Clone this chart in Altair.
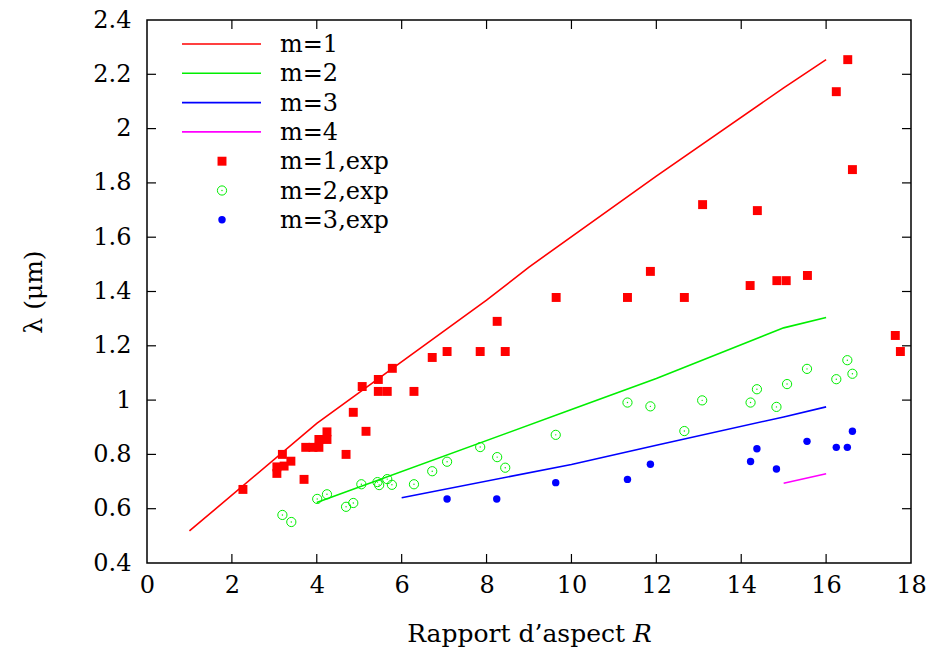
import altair as alt
import pandas as pd

# ---- theoretical curves ----
m1_x = [1, 4, 8, 9, 12, 15, 16]
m1_y = [0.518, 0.914, 1.368, 1.49, 1.825, 2.15, 2.254]
m2_x = [4, 10, 12, 15, 16]
m2_y = [0.623, 0.965, 1.08, 1.266, 1.304]
m3_x = [6, 10, 12, 15, 16]
m3_y = [0.640, 0.763, 0.834, 0.938, 0.975]
m4_x = [15, 16]
m4_y = [0.694, 0.729]

# ---- experimental points ----
exp1_x = [2.26, 3.19, 3.06, 3.06, 3.23, 3.39, 3.70, 3.74, 3.91, 4.05, 4.05, 4.24, 4.24,
          4.69, 4.86, 5.16, 5.07, 5.45, 5.45, 5.66, 5.78, 6.29, 6.72, 7.07, 7.85, 8.25,
          8.44, 9.64, 11.32, 11.86, 12.66, 13.09, 14.21, 14.38, 14.84, 15.06, 15.56,
          16.24, 16.51, 16.62, 17.63, 17.75]
exp1_y = [0.671, 0.800, 0.754, 0.730, 0.757, 0.775, 0.708, 0.826, 0.826, 0.826, 0.855, 0.855, 0.883,
          0.800, 0.955, 0.885, 1.050, 1.076, 1.032, 1.032, 1.117, 1.032, 1.157, 1.179, 1.179, 1.290,
          1.179, 1.378, 1.378, 1.474, 1.378, 1.720, 1.422, 1.698, 1.440, 1.440, 1.459,
          2.136, 2.254, 1.849, 1.238, 1.179]

exp2_x = [3.19, 3.40, 4.01, 4.24, 4.69, 4.86, 5.05, 5.43, 5.47, 5.66, 5.77, 6.29, 6.72,
          7.07, 7.85, 8.25, 8.44, 9.63, 11.32, 11.86, 12.66, 13.08, 14.22, 14.37, 14.83,
          15.08, 15.55, 16.24, 16.50, 16.62]
exp2_y = [0.577, 0.551, 0.636, 0.653, 0.607, 0.621, 0.690, 0.698, 0.687, 0.709, 0.688, 0.690, 0.738,
          0.773, 0.827, 0.790, 0.751, 0.872, 0.991, 0.977, 0.886, 0.999, 0.991, 1.040, 0.975,
          1.059, 1.115, 1.077, 1.147, 1.097]

exp3_x = [7.07, 8.24, 9.63, 11.32, 11.86, 14.22, 14.37, 14.83, 15.55, 16.24, 16.50, 16.62]
exp3_y = [0.636, 0.636, 0.696, 0.708, 0.764, 0.774, 0.821, 0.746, 0.848, 0.826, 0.826, 0.885]

x_ticks = [0, 2, 4, 6, 8, 10, 12, 14, 16, 18]
y_ticks = [0.4, 0.6, 0.8, 1.0, 1.2, 1.4, 1.6, 1.8, 2.0, 2.2, 2.4]

line_labels = ["m=1", "m=2", "m=3", "m=4"]
line_colors = ["#ff0000", "#00ee00", "#0000ff", "#ff00ff"]
exp_labels = ["m=1,exp", "m=2,exp", "m=3,exp"]

W, H = 764, 543
FONT = "DejaVu Serif"
FS = 24
FS_T = 25

xscale = alt.Scale(domain=[0, 18], nice=False, zero=False)
yscale = alt.Scale(domain=[0.4, 2.4], nice=False, zero=False)
xaxis = alt.Axis(values=x_ticks, ticks=False, domain=False, grid=False, labelFont=FONT,
                 labelFontSize=FS, labelColor="black", labelPadding=10, labelFlush=False,
                 title="Rapport d\u2019aspect \U0001D445", titleFont=FONT, titleFontSize=FS_T,
                 titleFontWeight="normal", titleColor="black", titleY=78,
                 titleBaseline="alphabetic")
yaxis = alt.Axis(values=y_ticks, ticks=False, domain=False, grid=False, labelFont=FONT,
                 labelFontSize=FS, labelColor="black", labelPadding=16, format="~g",
                 labelFlush=False,
                 title="\u03bb (\u03bcm)", titleFont=FONT, titleFontSize=FS_T,
                 titleFontWeight="normal", titleColor="black", titleX=-114, titleY=H / 2,
                 titleBaseline="middle", titleAngle=270)


def X(f):
    return alt.X(f, type="quantitative", scale=xscale, axis=xaxis)


def Y(f):
    return alt.Y(f, type="quantitative", scale=yscale, axis=yaxis)


rows = []
for lab, xs, ys in zip(line_labels, [m1_x, m2_x, m3_x, m4_x], [m1_y, m2_y, m3_y, m4_y]):
    for i, (a, b) in enumerate(zip(xs, ys)):
        rows.append({"series": lab, "x": a, "y": b, "o": i})
lines_df = pd.DataFrame(rows)

lines = alt.Chart(lines_df).mark_line(strokeWidth=1.6).encode(
    x=X("x"), y=Y("y"),
    color=alt.Color("series:N", scale=alt.Scale(domain=line_labels, range=line_colors), legend=None),
    order="o:Q",
)

e1 = pd.DataFrame({"x": exp1_x, "y": exp1_y})
e2 = pd.DataFrame({"x": exp2_x, "y": exp2_y})
e3 = pd.DataFrame({"x": exp3_x, "y": exp3_y})

pts1 = alt.Chart(e1).mark_square(size=80, color="#ff0000", opacity=1).encode(x=X("x"), y=Y("y"))
pts2 = alt.Chart(e2).mark_point(shape="circle", size=85, color="#00ee00", strokeWidth=1,
                                opacity=1, filled=False).encode(x=X("x"), y=Y("y"))
pts2c = alt.Chart(e2).mark_circle(size=2, color="#00ee00", opacity=1).encode(x=X("x"), y=Y("y"))
pts3 = alt.Chart(e3).mark_circle(size=55, color="#0000ff", opacity=1).encode(x=X("x"), y=Y("y"))

# frame ticks (inward, mirrored)
xt = pd.DataFrame({"t": x_ticks[1:-1]})
yt = pd.DataFrame({"t": y_ticks[1:-1]})
TL = 9
tick_layers = [
    alt.Chart(xt).mark_rule(color="black", strokeWidth=1.2).encode(x=X("t"), y=alt.value(H), y2=alt.value(H - TL)),
    alt.Chart(xt).mark_rule(color="black", strokeWidth=1.2).encode(x=X("t"), y=alt.value(0), y2=alt.value(TL)),
    alt.Chart(yt).mark_rule(color="black", strokeWidth=1.2).encode(y=Y("t"), x=alt.value(0), x2=alt.value(TL)),
    alt.Chart(yt).mark_rule(color="black", strokeWidth=1.2).encode(y=Y("t"), x=alt.value(W - TL), x2=alt.value(W)),
]

# legend (inside, top-left)
one = pd.DataFrame({"a": [0]})
leg = []
row_y0, row_dy = 24, 29.3
for i, (lab, col) in enumerate(zip(line_labels, line_colors)):
    yy = row_y0 + i * row_dy
    leg.append(alt.Chart(one).mark_rule(color=col, strokeWidth=1.6).encode(
        x=alt.value(35), x2=alt.value(114), y=alt.value(yy)))
    leg.append(alt.Chart(one).mark_text(text=lab, align="left", baseline="middle", font=FONT,
                                        fontSize=FS, color="black").encode(x=alt.value(133), y=alt.value(yy + 1)))
for j, lab in enumerate(exp_labels):
    yy = row_y0 + (4 + j) * row_dy
    if j == 0:
        leg.append(alt.Chart(one).mark_square(size=80, color="#ff0000", opacity=1).encode(
            x=alt.value(75), y=alt.value(yy)))
    elif j == 1:
        leg.append(alt.Chart(one).mark_point(shape="circle", size=85, color="#00ee00", strokeWidth=1,
                                             opacity=1, filled=False).encode(x=alt.value(75), y=alt.value(yy)))
        leg.append(alt.Chart(one).mark_circle(size=2, color="#00ee00", opacity=1).encode(
            x=alt.value(75), y=alt.value(yy)))
    else:
        leg.append(alt.Chart(one).mark_circle(size=55, color="#0000ff", opacity=1).encode(
            x=alt.value(75), y=alt.value(yy)))
    leg.append(alt.Chart(one).mark_text(text=lab, align="left", baseline="middle", font=FONT,
                                        fontSize=FS, color="black").encode(x=alt.value(133), y=alt.value(yy + 1)))

chart = alt.layer(lines, pts1, pts2, pts2c, pts3, *tick_layers, *leg).properties(
    width=W, height=H,
    autosize=alt.AutoSizeParams(type="none"),
    padding={"left": 139, "top": 12, "right": 15, "bottom": 84},
    background="white",
).configure_view(stroke="black", strokeWidth=1.5)

chart.save("out.html", embed_options={"renderer": "svg", "actions": False})
